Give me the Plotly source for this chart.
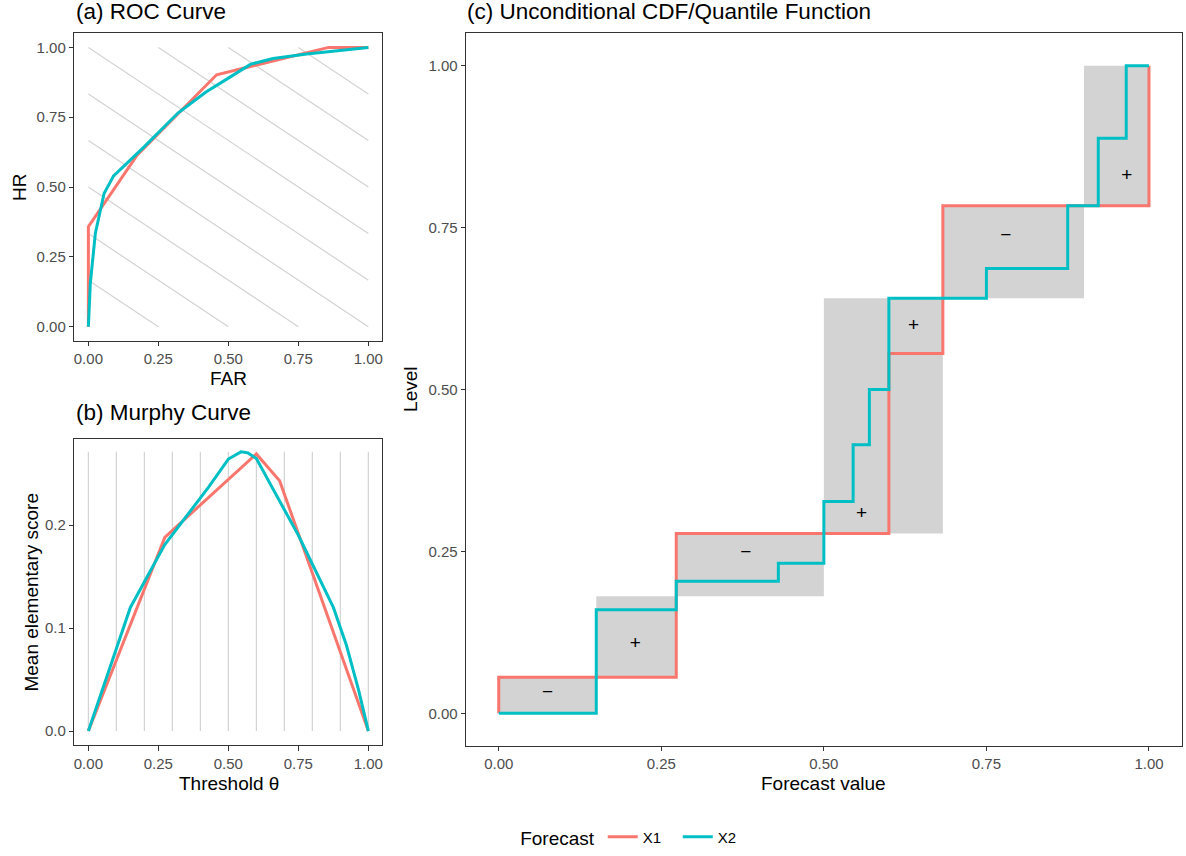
import plotly.graph_objects as go

# ---------------- data ----------------
# (a) ROC curve
roc_far_x1 = [0.0, 0.0, 0.174, 0.458, 0.858, 1.0]
roc_hr_x1 = [0.0, 0.358, 0.614, 0.902, 1.0, 1.0]
roc_far_x2 = [0.0, 0.007, 0.025, 0.056, 0.09, 0.2, 0.32, 0.42, 0.5, 0.58, 0.66, 0.78, 1.0]
roc_hr_x2 = [0.0, 0.156, 0.335, 0.477, 0.54, 0.645, 0.765, 0.84, 0.89, 0.94, 0.96, 0.976, 1.0]
iso_slope = -2 / 3
iso_intercepts = [1/6, 2/6, 3/6, 4/6, 5/6, 6/6, 7/6, 8/6, 9/6]

# (b) Murphy curve
murphy_theta_x1 = [0.0, 0.273, 0.6, 0.683, 1.0]
murphy_score_x1 = [0.0, 0.188, 0.269, 0.243, 0.0]
murphy_theta_x2 = [0.0, 0.15, 0.273, 0.43, 0.5, 0.545, 0.57, 0.6, 0.75, 0.875, 0.922, 0.965, 1.0]
murphy_score_x2 = [0.0, 0.12, 0.181, 0.237, 0.264, 0.271, 0.27, 0.2645, 0.19, 0.12, 0.083, 0.04, 0.0]
theta_grid = [0.0, 0.1, 0.2, 0.3, 0.4, 0.5, 0.6, 0.7, 0.8, 0.9, 1.0]

# (c) Unconditional CDF / quantile function
cdf_values_x1 = [0.0, 0.273, 0.6, 0.683, 1.0]
cdf_levels_x1 = [0.0556, 0.2778, 0.5556, 0.784, 1.0]
cdf_values_x2 = [0.15, 0.273, 0.43, 0.5, 0.545, 0.57, 0.6, 0.75, 0.875, 0.922, 0.965]
cdf_levels_x2 = [0.16, 0.204, 0.232, 0.327, 0.415, 0.5, 0.641, 0.687, 0.784, 0.888, 1.0]
box_x0 = [0.0, 0.15, 0.273, 0.5, 0.683, 0.9]
box_x1 = [0.15, 0.273, 0.5, 0.683, 0.9, 1.0]
box_y0 = [0.0, 0.0556, 0.181, 0.2778, 0.641, 0.784]
box_y1 = [0.0556, 0.181, 0.2778, 0.641, 0.784, 1.0]
sign_x = [0.075, 0.21, 0.38, 0.558, 0.638, 0.78, 0.966]
sign_y = [0.031, 0.106, 0.247, 0.307, 0.598, 0.737, 0.829]
sign_text = ["\u2212", "+", "\u2212", "+", "+", "\u2212", "+"]

unit_ticks = [0.0, 0.25, 0.5, 0.75, 1.0]
unit_ticktext = ["0.00", "0.25", "0.50", "0.75", "1.00"]
murphy_yticks = [0.0, 0.1, 0.2]
murphy_yticktext = ["0.0", "0.1", "0.2"]

# ---------------- style ----------------
RED = "#F8766D"
CYAN = "#00BFC4"
GRAYLINE = "#D3D3D3"
FONT = "Liberation Sans, Arial, sans-serif"
W, H = 1186, 856
LW = 3

def px_x(p):
    return p / W

def px_y(p):
    return 1 - p / H

fig = go.Figure()

# ROC iso-lines
iso_x, iso_y = [], []
for c in iso_intercepts:
    xs = max(0.0, (c - 1) / -iso_slope)
    xe = min(1.0, c / -iso_slope)
    iso_x += [xs, xe, None]
    iso_y += [c + iso_slope * xs, c + iso_slope * xe, None]
fig.add_trace(go.Scatter(x=iso_x, y=iso_y, mode="lines", line=dict(color=GRAYLINE, width=1.2),
                         showlegend=False, hoverinfo="skip", xaxis="x", yaxis="y"))
fig.add_trace(go.Scatter(x=roc_far_x1, y=roc_hr_x1, mode="lines", line=dict(color=RED, width=LW),
                         name="X1", legendgroup="X1", xaxis="x", yaxis="y"))
fig.add_trace(go.Scatter(x=roc_far_x2, y=roc_hr_x2, mode="lines", line=dict(color=CYAN, width=LW),
                         name="X2", legendgroup="X2", xaxis="x", yaxis="y"))

# Murphy vertical grid
mtop = max(max(murphy_score_x1), max(murphy_score_x2))
vx, vy = [], []
for t in theta_grid:
    vx += [t, t, None]
    vy += [0, mtop, None]
fig.add_trace(go.Scatter(x=vx, y=vy, mode="lines", line=dict(color=GRAYLINE, width=1.2),
                         showlegend=False, hoverinfo="skip", xaxis="x2", yaxis="y2"))
fig.add_trace(go.Scatter(x=murphy_theta_x1, y=murphy_score_x1, mode="lines", line=dict(color=RED, width=LW),
                         name="X1", legendgroup="X1", showlegend=False, xaxis="x2", yaxis="y2"))
fig.add_trace(go.Scatter(x=murphy_theta_x2, y=murphy_score_x2, mode="lines", line=dict(color=CYAN, width=LW),
                         name="X2", legendgroup="X2", showlegend=False, xaxis="x2", yaxis="y2"))

# CDF boxes
for a, b, c, d in zip(box_x0, box_x1, box_y0, box_y1):
    fig.add_shape(type="rect", x0=a, x1=b, y0=c, y1=d, xref="x3", yref="y3",
                  fillcolor="#D3D3D3", line=dict(width=0), layer="below")

fig.add_trace(go.Scatter(x=[cdf_values_x1[0]] + cdf_values_x1, y=[0.0] + cdf_levels_x1, mode="lines",
                         line=dict(color=RED, width=LW, shape="hv"), name="X1", legendgroup="X1",
                         showlegend=False, xaxis="x3", yaxis="y3"))
fig.add_trace(go.Scatter(x=[0.0] + cdf_values_x2 + [1.0], y=[0.0] + cdf_levels_x2 + [cdf_levels_x2[-1]],
                         mode="lines", line=dict(color=CYAN, width=LW, shape="hv"), name="X2",
                         legendgroup="X2", showlegend=False, xaxis="x3", yaxis="y3"))
fig.add_trace(go.Scatter(x=sign_x, y=sign_y, mode="text", text=sign_text,
                         textfont=dict(size=19, color="black", family=FONT), textposition="middle center",
                         showlegend=False, hoverinfo="skip", xaxis="x3", yaxis="y3"))

axis_common = dict(showgrid=False, zeroline=False, showline=True, mirror=True, linecolor="#333333",
                   linewidth=1.2, ticks="outside", ticklen=4.5, tickwidth=1.1, tickcolor="#333333",
                   tickfont=dict(size=15, color="#4D4D4D", family=FONT))

a_x = [px_x(73.5), px_x(382)]
a_y = [px_y(341.5), px_y(33.5)]
b_y = [px_y(746.7), px_y(440)]
c_x = [px_x(466), px_x(1182.5)]
c_y = [px_y(747.5), px_y(33.5)]

fig.update_layout(
    width=W, height=H, margin=dict(l=0, r=0, t=0, b=0),
    paper_bgcolor="white", plot_bgcolor="white",
    font=dict(family=FONT, color="black"),
    xaxis=dict(domain=a_x, range=[-0.05, 1.05], anchor="y", tickvals=unit_ticks, ticktext=unit_ticktext, **axis_common),
    yaxis=dict(domain=a_y, range=[-0.05, 1.05], anchor="x", tickvals=unit_ticks, ticktext=unit_ticktext, **axis_common),
    xaxis2=dict(domain=a_x, range=[-0.05, 1.05], anchor="y2", tickvals=unit_ticks, ticktext=unit_ticktext, **axis_common),
    yaxis2=dict(domain=b_y, range=[-0.0135, 0.2835], anchor="x2", tickvals=murphy_yticks, ticktext=murphy_yticktext, **axis_common),
    xaxis3=dict(domain=c_x, range=[-0.05, 1.05], anchor="y3", tickvals=unit_ticks, ticktext=unit_ticktext, **axis_common),
    yaxis3=dict(domain=c_y, range=[-0.05, 1.05], anchor="x3", tickvals=unit_ticks, ticktext=unit_ticktext, **axis_common),
    showlegend=True,
    legend=dict(orientation="h", x=px_x(518), xanchor="left", y=px_y(840), yanchor="middle",
                entrywidth=30, entrywidthmode="pixels",
                title=dict(text="Forecast", font=dict(size=19, color="black", family=FONT)),
                font=dict(size=15, color="black", family=FONT), bgcolor="rgba(0,0,0,0)"),
)

annos = [
    dict(text="(a) ROC Curve", x=px_x(73), y=px_y(12), xanchor="left", yanchor="middle", font=dict(size=22.5)),
    dict(text="(b) Murphy Curve", x=px_x(73), y=px_y(413), xanchor="left", yanchor="middle", font=dict(size=22.5)),
    dict(text="(c) Unconditional CDF/Quantile Function", x=px_x(465), y=px_y(12), xanchor="left", yanchor="middle", font=dict(size=22.5)),
    dict(text="FAR", x=px_x(228), y=px_y(379), xanchor="center", yanchor="middle", font=dict(size=19)),
    dict(text="Threshold \u03b8", x=px_x(228), y=px_y(785), xanchor="center", yanchor="middle", font=dict(size=19)),
    dict(text="Forecast value", x=px_x(824), y=px_y(785), xanchor="center", yanchor="middle", font=dict(size=19)),
    dict(text="HR", x=px_x(18), y=px_y(187.5), xanchor="center", yanchor="middle", textangle=-90, font=dict(size=19)),
    dict(text="Mean elementary score", x=px_x(31), y=px_y(593), xanchor="center", yanchor="middle", textangle=-90, font=dict(size=19)),
    dict(text="Level", x=px_x(410), y=px_y(390.5), xanchor="center", yanchor="middle", textangle=-90, font=dict(size=19)),
]
for a in annos:
    a.update(xref="paper", yref="paper", showarrow=False)
    a["font"].update(family=FONT, color="black")
    fig.add_annotation(**a)

fig.write_html("out.html", config={"displayModeBar": False},
               post_script="document.body.style.margin='0';document.body.style.overflow='hidden';")
